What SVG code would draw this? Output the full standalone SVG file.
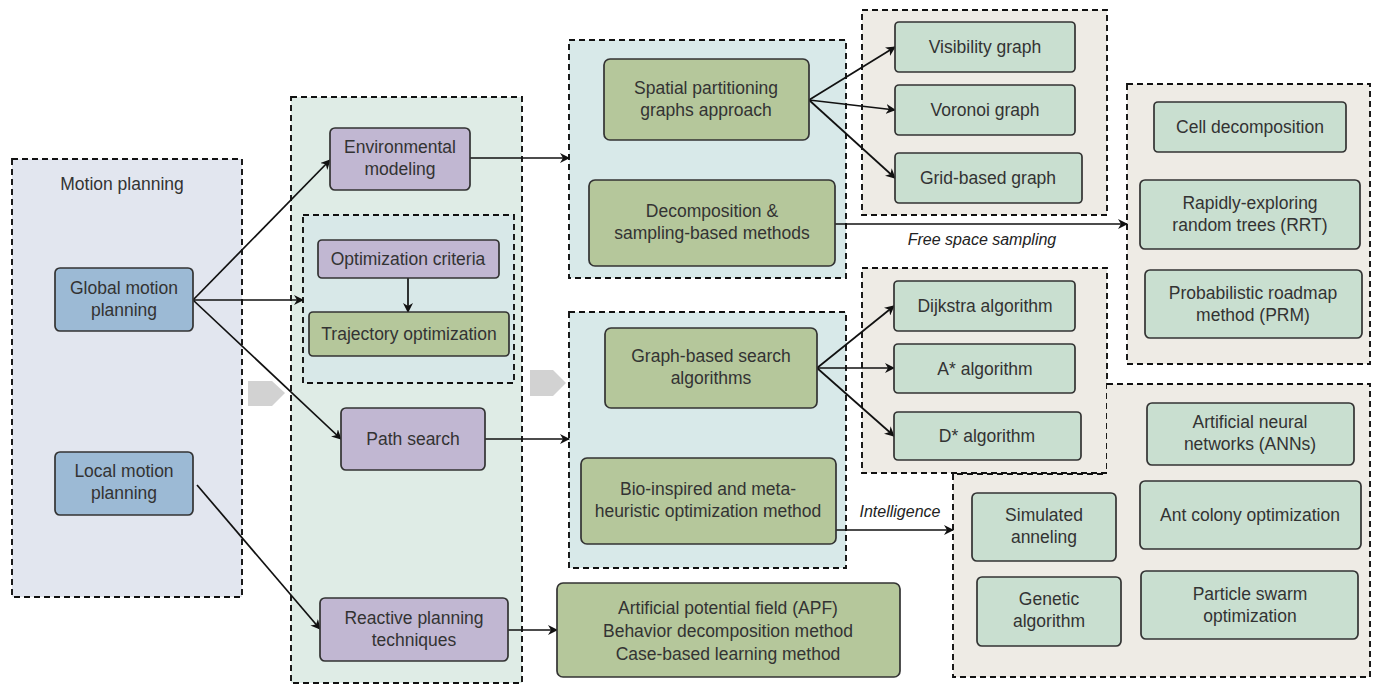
<svg xmlns="http://www.w3.org/2000/svg" width="1378" height="684" viewBox="0 0 1378 684">
<defs>
<marker id="ah" viewBox="0 0 10 10" refX="9" refY="5" markerWidth="10" markerHeight="10" markerUnits="userSpaceOnUse" orient="auto">
<path d="M0,0 L10,5 L0,10 L3,5 z" fill="#111"/>
</marker>
<style>
.cont{stroke:#111;stroke-width:1.9;stroke-dasharray:6,4}
.node rect{stroke:#333;stroke-width:1.7}
.blue{fill:#9cbad5}
.purple{fill:#c1b7d2}
.green{fill:#b5c79b}
.lgreen{fill:#c9dfd0}
text{font-family:"Liberation Sans",Arial,sans-serif;font-size:17.5px;fill:#333;text-anchor:middle}
.it{font-style:italic;font-size:16px;fill:#222}
.conn line{stroke:#111;stroke-width:1.7;fill:none;marker-end:url(#ah)}
</style>
</defs>
<rect width="1378" height="684" fill="#fff"/>

<g id="containers">
<rect class="cont" x="12" y="159" width="230" height="438" fill="#e2e6ef"/>
<rect class="cont" x="291" y="97" width="231" height="586" fill="#dfece6"/>
<rect class="cont" x="303" y="215" width="211" height="168" fill="#d8e8e8"/>
<rect class="cont" x="569" y="40" width="277" height="238" fill="#d8e9e9"/>
<rect class="cont" x="569" y="312" width="277" height="256" fill="#d8e9e9"/>
<rect class="cont" x="862" y="10" width="245" height="205" fill="#eeebe5"/>
<rect class="cont" x="1127" y="84" width="243" height="280" fill="#eeebe5"/>
<rect class="cont" x="862" y="268" width="245" height="205" fill="#eeebe5"/>
<path class="cont" d="M1107,384 L1370,384 L1370,677 L953,677 L953,474 L1107,474" fill="#eeebe5"/>
<text x="122" y="190">Motion planning</text>
</g>

<g id="blockarrows" fill="#d2d2d2">
<path d="M248,381 L272,381 L285,393 L272,406 L248,406 z"/>
<path d="M530,370 L553,370 L566,383 L553,396 L530,396 z"/>
</g>

<g class="conn" id="connectors">
<line x1="193" y1="300" x2="330" y2="160"/>
<line x1="193" y1="300" x2="303" y2="300"/>
<line x1="193" y1="300" x2="341" y2="439"/>
<line x1="197" y1="485" x2="320" y2="629"/>
<line x1="470" y1="158" x2="569" y2="158"/>
<line x1="408" y1="278" x2="408" y2="312"/>
<line x1="485" y1="439" x2="569" y2="439"/>
<line x1="508" y1="630" x2="557" y2="630"/>
<line x1="809" y1="100" x2="895" y2="47"/>
<line x1="809" y1="100" x2="895" y2="110"/>
<line x1="809" y1="100" x2="895" y2="178"/>
<line x1="835" y1="224" x2="1127" y2="224"/>
<line x1="817" y1="368" x2="894" y2="306"/>
<line x1="817" y1="368" x2="894" y2="368"/>
<line x1="817" y1="368" x2="894" y2="436"/>
<line x1="836" y1="530" x2="953" y2="530"/>
</g>
<text class="it" x="982" y="245">Free space sampling</text>
<text class="it" x="900" y="517">Intelligence</text>

<g id="n-global" class="node"><rect class="blue" x="55" y="268" width="138" height="63" rx="5"/><text x="124" y="294">Global motion</text><text x="124" y="316">planning</text></g>
<g id="n-local" class="node"><rect class="blue" x="55" y="452" width="138" height="63" rx="5"/><text x="124" y="477">Local motion</text><text x="124" y="499">planning</text></g>

<g id="n-env" class="node"><rect class="purple" x="330" y="128" width="140" height="62" rx="5"/><text x="400" y="153">Environmental</text><text x="400" y="175">modeling</text></g>
<g id="n-optc" class="node"><rect class="purple" x="318" y="240" width="181" height="38" rx="4"/><text x="408" y="265">Optimization criteria</text></g>
<g id="n-traj" class="node"><rect class="green" x="309" y="312" width="200" height="44" rx="4"/><text x="409" y="340">Trajectory optimization</text></g>
<g id="n-path" class="node"><rect class="purple" x="341" y="408" width="144" height="62" rx="5"/><text x="413" y="445">Path search</text></g>
<g id="n-react" class="node"><rect class="purple" x="320" y="598" width="188" height="63" rx="5"/><text x="414" y="624">Reactive planning</text><text x="414" y="646">techniques</text></g>

<g id="n-spatial" class="node"><rect class="green" x="604" y="59" width="205" height="81" rx="6"/><text x="706" y="94">Spatial partitioning</text><text x="706" y="116">graphs approach</text></g>
<g id="n-decomp" class="node"><rect class="green" x="589" y="180" width="246" height="86" rx="6"/><text x="712" y="217">Decomposition &amp;</text><text x="712" y="239">sampling-based methods</text></g>
<g id="n-graph" class="node"><rect class="green" x="605" y="328" width="212" height="80" rx="6"/><text x="711" y="362">Graph-based search</text><text x="711" y="384">algorithms</text></g>
<g id="n-bio" class="node"><rect class="green" x="581" y="458" width="255" height="86" rx="6"/><text x="708" y="495">Bio-inspired and meta-</text><text x="708" y="517">heuristic optimization method</text></g>
<g id="n-apf" class="node"><rect class="green" x="557" y="583" width="343" height="94" rx="6"/><text x="728" y="614">Artificial potential field (APF)</text><text x="728" y="637">Behavior decomposition method</text><text x="728" y="660">Case-based learning method</text></g>

<g id="n-vis" class="node"><rect class="lgreen" x="895" y="22" width="180" height="50" rx="4"/><text x="985" y="53">Visibility graph</text></g>
<g id="n-vor" class="node"><rect class="lgreen" x="895" y="85" width="180" height="50" rx="4"/><text x="985" y="116">Voronoi graph</text></g>
<g id="n-grid" class="node"><rect class="lgreen" x="895" y="153" width="187" height="50" rx="4"/><text x="988" y="184">Grid-based graph</text></g>

<g id="n-cell" class="node"><rect class="lgreen" x="1154" y="102" width="192" height="50" rx="4"/><text x="1250" y="133">Cell decomposition</text></g>
<g id="n-rrt" class="node"><rect class="lgreen" x="1140" y="180" width="220" height="69" rx="5"/><text x="1250" y="209">Rapidly-exploring</text><text x="1250" y="231">random trees (RRT)</text></g>
<g id="n-prm" class="node"><rect class="lgreen" x="1145" y="270" width="217" height="68" rx="5"/><text x="1253" y="299">Probabilistic roadmap</text><text x="1253" y="321">method (PRM)</text></g>

<g id="n-dij" class="node"><rect class="lgreen" x="894" y="281" width="181" height="50" rx="4"/><text x="985" y="312">Dijkstra algorithm</text></g>
<g id="n-astar" class="node"><rect class="lgreen" x="894" y="344" width="181" height="49" rx="4"/><text x="985" y="375">A* algorithm</text></g>
<g id="n-dstar" class="node"><rect class="lgreen" x="894" y="412" width="187" height="48" rx="4"/><text x="987" y="442">D* algorithm</text></g>

<g id="n-ann" class="node"><rect class="lgreen" x="1147" y="403" width="207" height="62" rx="5"/><text x="1250" y="428">Artificial neural</text><text x="1250" y="450">networks (ANNs)</text></g>
<g id="n-ant" class="node"><rect class="lgreen" x="1140" y="481" width="221" height="68" rx="5"/><text x="1250" y="521">Ant colony optimization</text></g>
<g id="n-pso" class="node"><rect class="lgreen" x="1141" y="571" width="217" height="68" rx="5"/><text x="1250" y="600">Particle swarm</text><text x="1250" y="622">optimization</text></g>
<g id="n-sa" class="node"><rect class="lgreen" x="972" y="493" width="144" height="68" rx="5"/><text x="1044" y="521">Simulated</text><text x="1044" y="543">anneling</text></g>
<g id="n-ga" class="node"><rect class="lgreen" x="977" y="577" width="144" height="69" rx="5"/><text x="1049" y="605">Genetic</text><text x="1049" y="627">algorithm</text></g>
</svg>
